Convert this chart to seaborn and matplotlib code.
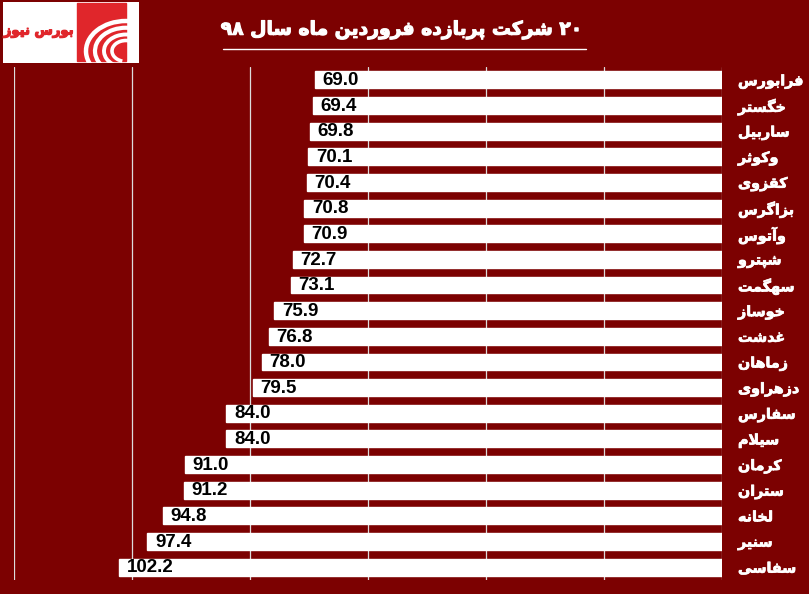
"""۲۰ شرکت پربازده فروردین ۹۸ - نمودار میله‌ای افقی"""
import unicodedata

import matplotlib.patheffects as pe
import matplotlib.pyplot as plt
import pandas as pd
import seaborn as sns
from matplotlib.lines import Line2D
from matplotlib.patches import Arc, Rectangle

# داده‌ها (از بالا به پایین)
names = [
    "فرابورس", "خگستر", "ساربیل", "وکوثر", "کقزوی", "بزاگرس", "وآتوس",
    "شپترو", "سهگمت", "خوساز", "غدشت", "زماهان", "دزهراوی", "سفارس",
    "سیلام", "کرمان", "ستران", "لخانه", "سنیر", "سفاسی",
]
returns = [
    69.0, 69.4, 69.8, 70.1, 70.4, 70.8, 70.9, 72.7, 73.1, 75.9,
    76.8, 78.0, 79.5, 84.0, 84.0, 91.0, 91.2, 94.8, 97.4, 102.2,
]
x_ticks = [0, 20, 40, 60, 80, 100, 120]
title = "۲۰ شرکت پربازده فروردین ماه سال ۹۸"
logo_text = "بورس نیوز"

BG = "#7c0101"
LOGO_RED = "#e0262b"

# matplotlib حروف فارسی را نمی‌چسباند -> فرم‌های نمایشی + ترتیب دیداری
FORMS = {
    "ا": ("\uFE8D", "\uFE8E", None, None),
    "آ": ("\uFE81", "\uFE82", None, None),
    "ب": ("\uFE8F", "\uFE90", "\uFE91", "\uFE92"),
    "پ": ("\uFB56", "\uFB57", "\uFB58", "\uFB59"),
    "ت": ("\uFE95", "\uFE96", "\uFE97", "\uFE98"),
    "ث": ("\uFE99", "\uFE9A", "\uFE9B", "\uFE9C"),
    "خ": ("\uFEA5", "\uFEA6", "\uFEA7", "\uFEA8"),
    "د": ("\uFEA9", "\uFEAA", None, None),
    "ر": ("\uFEAD", "\uFEAE", None, None),
    "ز": ("\uFEAF", "\uFEB0", None, None),
    "س": ("\uFEB1", "\uFEB2", "\uFEB3", "\uFEB4"),
    "ش": ("\uFEB5", "\uFEB6", "\uFEB7", "\uFEB8"),
    "غ": ("\uFECD", "\uFECE", "\uFECF", "\uFED0"),
    "ف": ("\uFED1", "\uFED2", "\uFED3", "\uFED4"),
    "ق": ("\uFED5", "\uFED6", "\uFED7", "\uFED8"),
    "ک": ("\uFB8E", "\uFB8F", "\uFB90", "\uFB91"),
    "گ": ("\uFB92", "\uFB93", "\uFB94", "\uFB95"),
    "ل": ("\uFEDD", "\uFEDE", "\uFEDF", "\uFEE0"),
    "م": ("\uFEE1", "\uFEE2", "\uFEE3", "\uFEE4"),
    "ن": ("\uFEE5", "\uFEE6", "\uFEE7", "\uFEE8"),
    "ه": ("\uFEE9", "\uFEEA", "\uFEEB", "\uFEEC"),
    "و": ("\uFEED", "\uFEEE", None, None),
    "ی": ("\uFBFC", "\uFBFD", "\uFBFE", "\uFBFF"),
    "\x01": ("\uFEFB", "\uFEFC", None, None),  # لا
}


def shape_word(word):
    word = unicodedata.normalize("NFC", word)
    word = word.replace("ي", "ی").replace("ك", "ک").replace("لا", "\x01")
    out = []
    for i, c in enumerate(word):
        f = FORMS.get(c)
        if f is None:
            out.append(c)
            continue
        prev = FORMS.get(word[i - 1]) if i > 0 else None
        nxt = FORMS.get(word[i + 1]) if i + 1 < len(word) else None
        jp = prev is not None and prev[2] is not None
        jn = nxt is not None and f[2] is not None
        if jp and jn:
            out.append(f[3])
        elif jp:
            out.append(f[1])
        elif jn:
            out.append(f[2])
        else:
            out.append(f[0])
    return "".join(reversed(out))


def fa(text):
    words = []
    for w in text.split(" "):
        words.append(w if w.isdigit() else shape_word(w))
    return " ".join(reversed(words))


sns.set_style("white", {"axes.facecolor": BG, "figure.facecolor": BG})
plt.rcParams["font.family"] = ["DejaVu Sans"]

df = pd.DataFrame({"name": names, "ret": returns})

W, H = 809, 594
fig = plt.figure(figsize=(W / 100, H / 100), dpi=100)
ax = fig.add_axes([14 / W, 14 / H, (722 - 14) / W, (580 - 67) / H])

sns.barplot(data=df, x="ret", y="name", orient="h", color="white",
            saturation=1, width=0.66, ax=ax, zorder=3)

ax.set_xlim(max(x_ticks), 0)
ax.set_xticks(x_ticks)
ax.xaxis.grid(True, color="#dcdcdc", linewidth=0.9, zorder=0)
ax.set_axisbelow(True)
ax.tick_params(axis="x", length=0, labelbottom=False)
for s in ax.spines.values():
    s.set_visible(False)

thick_white = [pe.withStroke(linewidth=0.5, foreground="white")]

ax.yaxis.tick_right()
ax.set_yticks(range(len(names)))
ax.set_yticklabels([fa(n) for n in names], fontsize=10.3, fontweight="bold",
                   color="white", ha="left")
for lbl in ax.get_yticklabels():
    lbl.set_path_effects(thick_white)
ax.tick_params(axis="y", length=0, pad=11.5)
ax.set_xlabel("")
ax.set_ylabel("")

for i, v in enumerate(returns):
    ax.annotate(f"{v:.1f}", xy=(v, i), xytext=(5.5, -0.5), textcoords="offset points",
                ha="left", va="center", fontsize=13.5, fontweight="bold",
                family=["Liberation Sans", "DejaVu Sans"], color="black", zorder=4)

# عنوان
fig.text(402 / W, 1 - 30 / H, fa(title), ha="center", va="center",
         fontsize=13.5, fontweight="bold", color="white",
         path_effects=[pe.withStroke(linewidth=0.8, foreground="white")])
fig.add_artist(Line2D([223 / W, 586 / W], [1 - 49 / H, 1 - 49 / H],
                      color="white", linewidth=1))

# لوگو
lax = fig.add_axes([3 / W, 1 - 63 / H, 136 / W, 61 / H])
lax.set_xlim(0, 136)
lax.set_ylim(0, 61)
lax.set_facecolor("white")
lax.set_xticks([])
lax.set_yticks([])
for s in lax.spines.values():
    s.set_visible(False)
red = Rectangle((74, 2), 49, 58, color=LOGO_RED)
lax.add_patch(red)
for r, lw in [(40, 3.2), (31, 3.0), (22, 2.8), (14, 2.6)]:
    arc = Arc((123, 12), 2 * r, 1.5 * r, theta1=60, theta2=250,
              color="white", linewidth=lw)
    arc.set_clip_path(red)
    lax.add_patch(arc)
lax.text(36, 32, fa(logo_text), ha="center", va="center", fontsize=9.5,
         fontweight="bold", color=LOGO_RED,
         path_effects=[pe.withStroke(linewidth=0.9, foreground=LOGO_RED)])

fig.savefig("out.png", dpi=100, facecolor=BG)
